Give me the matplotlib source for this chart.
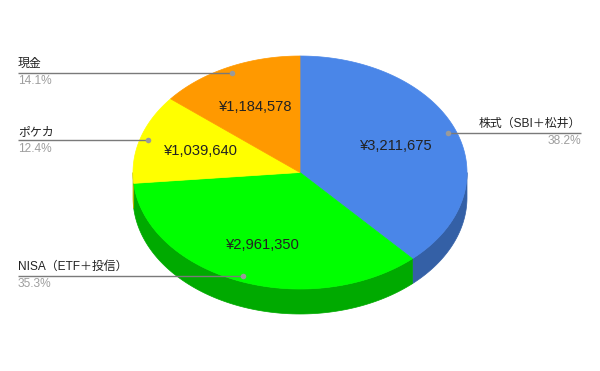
import matplotlib
matplotlib.use('Agg')
import numpy as np
import matplotlib.pyplot as plt

# --- data (clockwise from 12 o'clock) ---
names = ['株式（SBI＋松井）', 'NISA（ETF＋投信）', 'ポケカ', '現金']
values = [3211675, 2961350, 1039640, 1184578]
top_colors = ['#4a86e8', '#00ff00', '#ffff00', '#ff9900']
side_colors = ['#3460a6', '#00aa00', '#b3b300', '#b36b00']

# --- geometry of the tilted pie, in pixels ---
cx, cy, rx, ry, depth = 300, 172.5, 167, 116.5, 25
fonts = ['Liberation Sans', 'Noto Sans CJK JP']

def rim(t, r=1.0, dz=0.0):
    return cx + r * rx * np.sin(t), cy - r * ry * np.cos(t) + dz

fig = plt.figure(figsize=(6, 3.71), dpi=100)
ax = fig.add_axes([0, 0, 1, 1])
ax.set_xlim(0, 600); ax.set_ylim(371, 0); ax.axis('off')

total = sum(values)
frac = np.array(values) / total
edges = np.concatenate([[0], np.cumsum(frac)]) * 2 * np.pi

# side walls (only the front half, 90..270 deg)
for i in range(len(values)):
    lo, hi = max(edges[i], np.pi / 2), min(edges[i + 1], 3 * np.pi / 2)
    if lo >= hi:
        continue
    ts = np.linspace(lo, hi, 100)
    xt, yt = rim(ts)
    xb, yb = rim(ts[::-1], dz=depth)
    ax.fill(np.r_[xt, xb], np.r_[yt, yb], color=side_colors[i], lw=0.5, ec=side_colors[i])

# top faces
for i in range(len(values)):
    ts = np.linspace(edges[i], edges[i + 1], 200)
    xs, ys = rim(ts)
    ax.fill(np.r_[cx, xs], np.r_[cy, ys], color=top_colors[i], lw=0.5, ec=top_colors[i])

# value labels + leader lines
for i, (n, v) in enumerate(zip(names, values)):
    mid = (edges[i] + edges[i + 1]) / 2
    lx, ly = rim(mid, 0.62)
    if np.cos(mid) < -0.5:  # front slice: nudge down a bit, like the original
        ly += 5
    ax.text(lx, ly, f'¥{v:,}', ha='center', va='center', fontsize=10.6,
            color='#222222', family=fonts)
    dx, dy = rim(mid, 0.95)
    pct = f'{frac[i] * 100:.1f}%'
    if dx > cx:
        x0, ha = 581, 'right'
    else:
        x0, ha = 18, 'left'
    ax.plot([dx, x0], [dy, dy], color='#7a7a7a', lw=1, solid_capstyle='butt')
    ax.plot(dx, dy, 'o', ms=4, color='#9a9a9a', mec='none')
    ax.text(x0, dy - 8.5, n, ha=ha, va='center', fontsize=8.6,
            color='#222222', family=fonts)
    ax.text(x0, dy + 8.5, pct, ha=ha, va='center', fontsize=8.6,
            color='#9e9e9e', family=fonts)

plt.savefig('out.png', dpi=100)
plt.close()
